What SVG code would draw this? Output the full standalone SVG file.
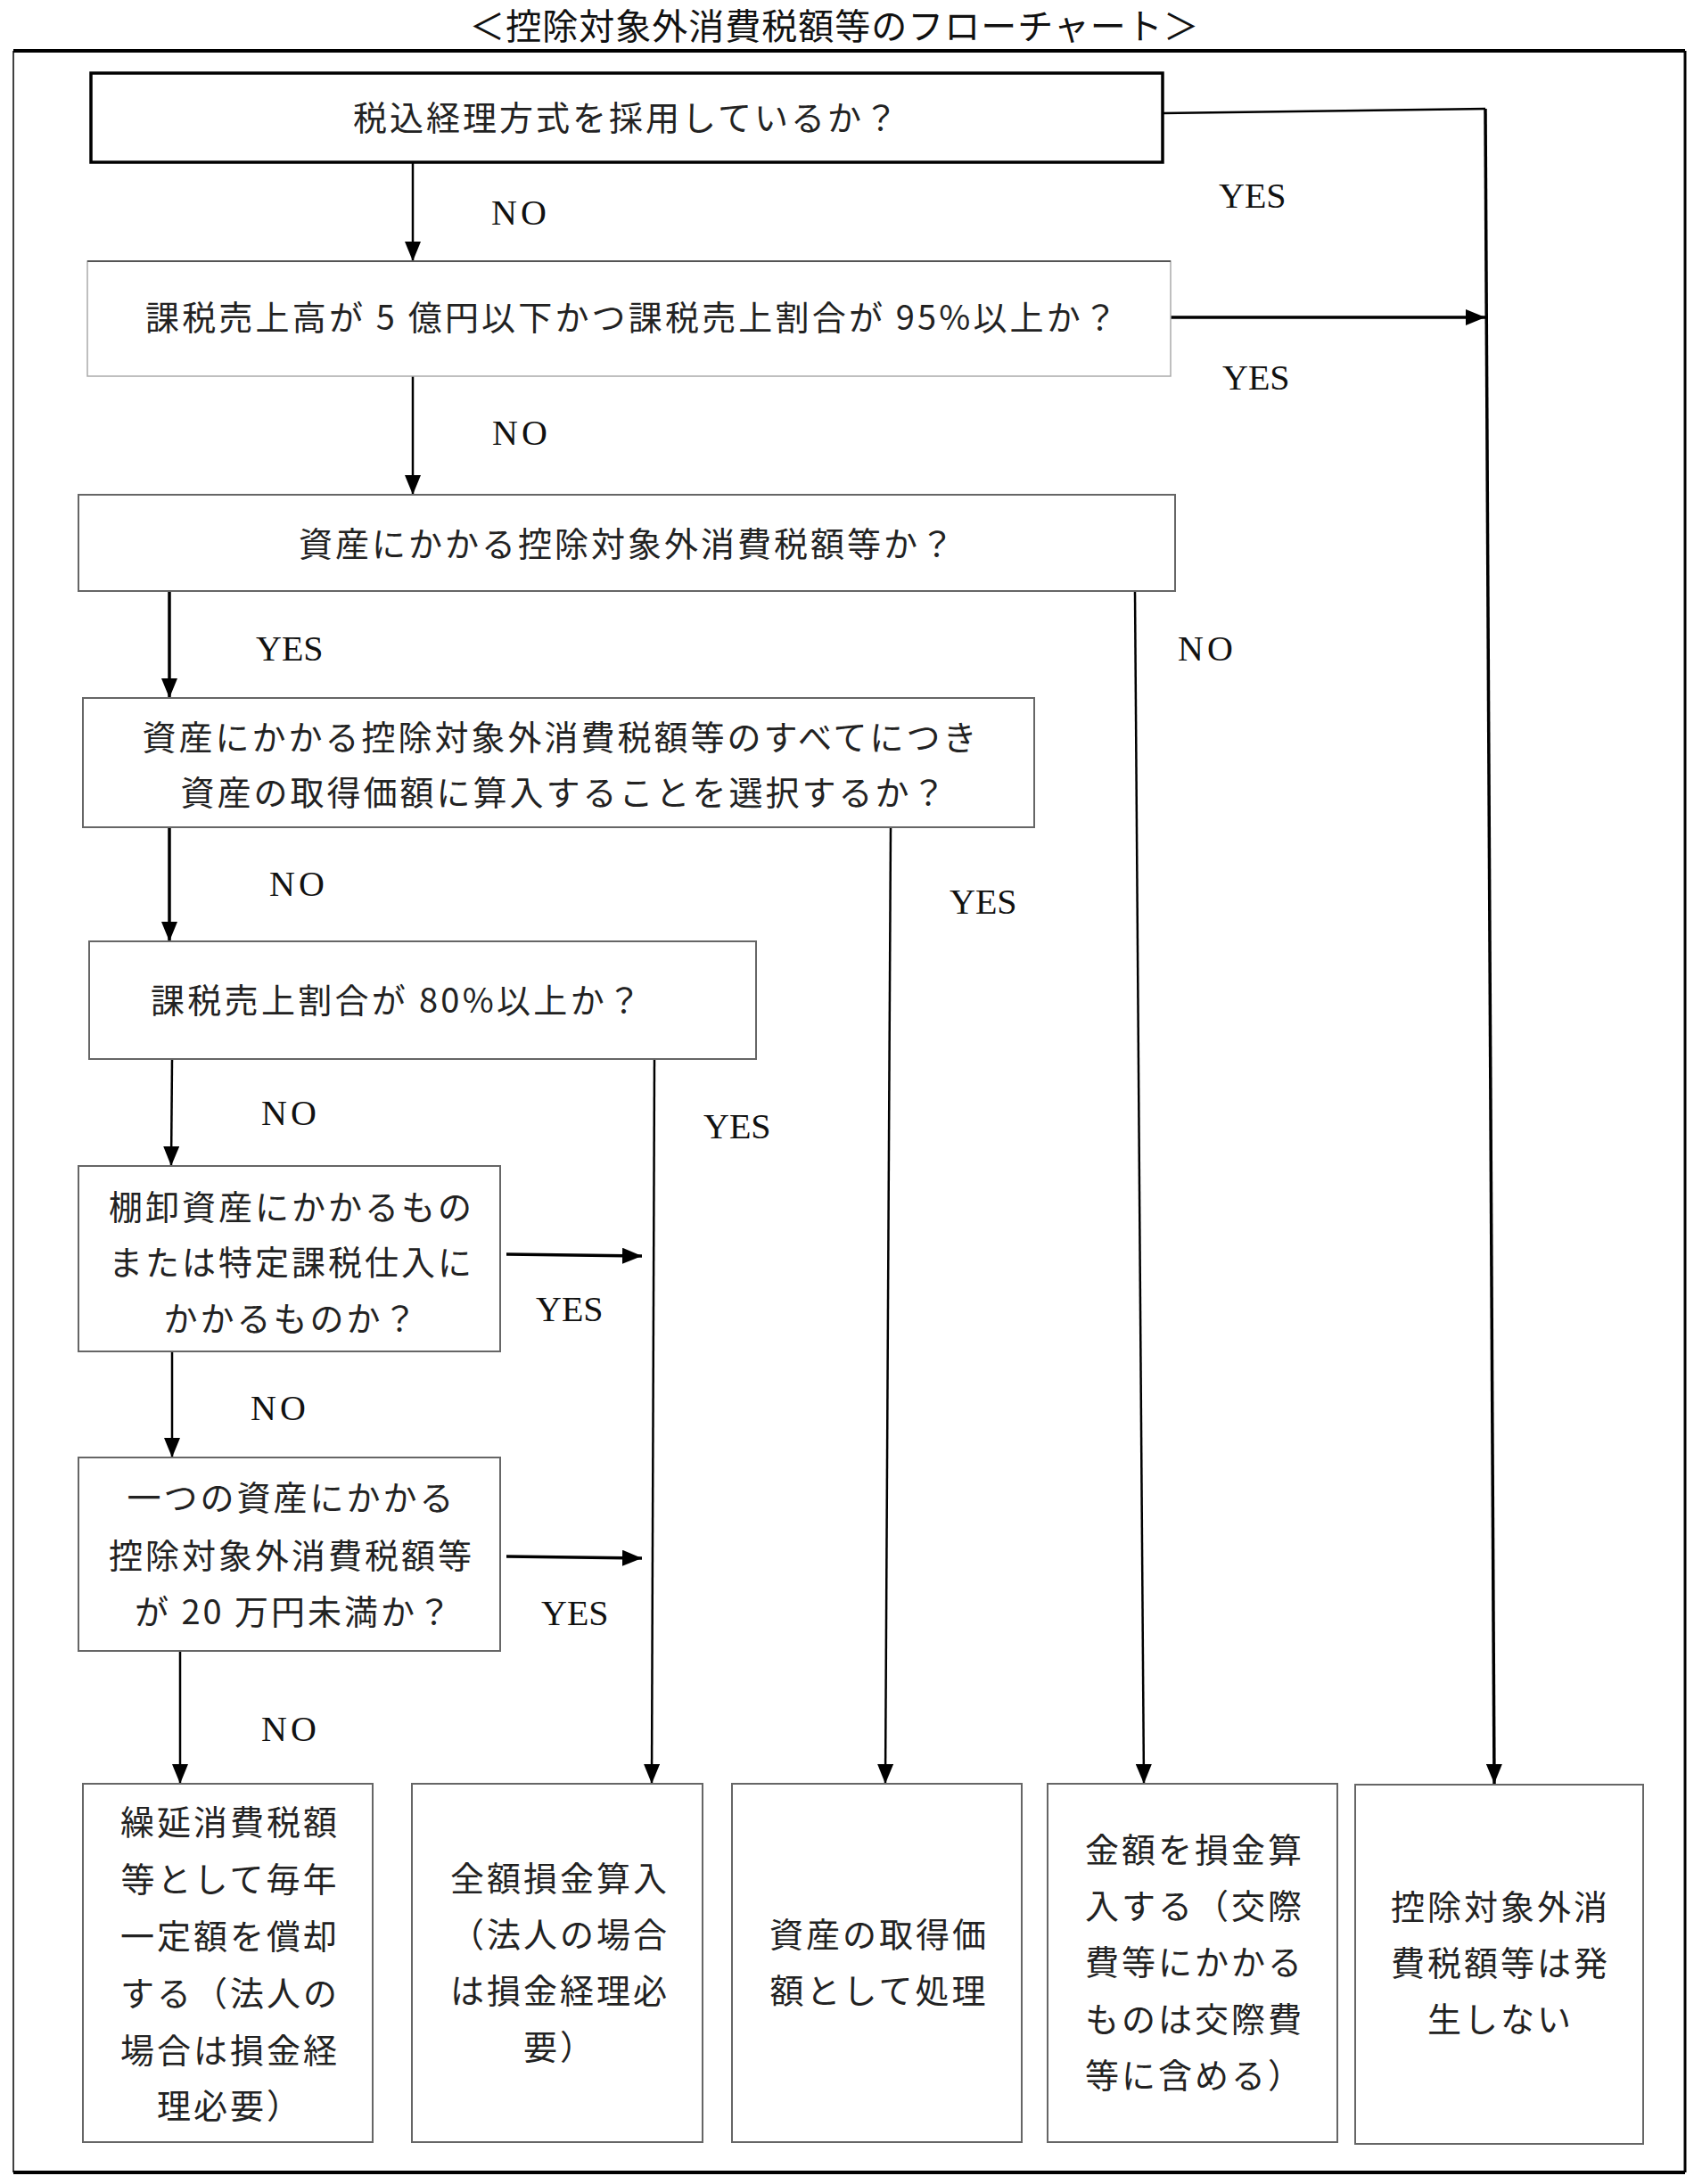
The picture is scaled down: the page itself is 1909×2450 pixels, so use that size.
<svg xmlns="http://www.w3.org/2000/svg" width="1909" height="2450" viewBox="0 0 1909 2450">
<style>
.jp{font-family:'Noto Sans CJK JP','Noto Sans CJK SC',sans-serif;font-size:38px;letter-spacing:3px;fill:#222;text-anchor:middle}
.js{font-family:'Noto Sans CJK JP','Noto Sans CJK SC',sans-serif;font-size:38px;fill:#222}
.tt{font-family:'Noto Sans CJK JP','Noto Sans CJK SC',sans-serif;font-size:40px;letter-spacing:1px;fill:#111;text-anchor:middle}
.lb{font-family:'Liberation Serif','Times New Roman',serif;font-size:40px;fill:#111}
.no{letter-spacing:4px}
.box{fill:#fff;stroke:#666;stroke-width:2}
.boxl{fill:#fff;stroke:#aaa;stroke-width:1.5}
.ln{fill:none;stroke:#000;stroke-width:2.5}
.lt{fill:none;stroke:#000;stroke-width:3.5}
</style>
<defs>
<marker id="ah" markerUnits="userSpaceOnUse" markerWidth="22" markerHeight="18" viewBox="0 0 22 18" refX="22" refY="9" orient="auto">
<path d="M0,0 L22,9 L0,18 Z" fill="#000"/>
</marker>
</defs>
<rect width="1909" height="2450" fill="#fff"/>
<text class="tt" x="936" y="44">＜控除対象外消費税額等のフローチャート＞</text>
<g id="frame">
<line x1="15" y1="57" x2="1890" y2="57" stroke="#000" stroke-width="4"/>
<line x1="15" y1="2437" x2="1890" y2="2437" stroke="#000" stroke-width="4"/>
<line x1="15" y1="57" x2="15" y2="2437" stroke="#000" stroke-width="1.5"/>
<line x1="1890" y1="57" x2="1890" y2="2437" stroke="#000" stroke-width="3"/>
</g>
<g id="connectors">
<line class="ln" x1="463" y1="182" x2="463" y2="293" marker-end="url(#ah)"/>
<polyline class="ln" points="1304,127 1666,122"/>
<line class="lt" x1="1666" y1="122" x2="1676" y2="2001" marker-end="url(#ah)"/>
<line class="lt" x1="1313" y1="356" x2="1666" y2="356" marker-end="url(#ah)"/>
<line class="ln" x1="463" y1="422" x2="463" y2="555" marker-end="url(#ah)"/>
<line class="lt" x1="190" y1="663" x2="190" y2="783" marker-end="url(#ah)"/>
<line class="ln" x1="1273" y1="663" x2="1283" y2="2001" marker-end="url(#ah)"/>
<line class="lt" x1="190" y1="928" x2="190" y2="1056" marker-end="url(#ah)"/>
<line class="ln" x1="999" y1="928" x2="993" y2="2001" marker-end="url(#ah)"/>
<line class="ln" x1="193" y1="1188" x2="192" y2="1308" marker-end="url(#ah)"/>
<line class="ln" x1="734" y1="1188" x2="731" y2="2001" marker-end="url(#ah)"/>
<line class="lt" x1="568" y1="1407" x2="720" y2="1409" marker-end="url(#ah)"/>
<line class="ln" x1="193" y1="1516" x2="193" y2="1635" marker-end="url(#ah)"/>
<line class="lt" x1="568" y1="1746" x2="720" y2="1748" marker-end="url(#ah)"/>
<line class="ln" x1="202" y1="1852" x2="202" y2="2001" marker-end="url(#ah)"/>
</g>
<g id="labels">
<text class="lb no" x="551" y="252">NO</text>
<text class="lb" x="1367" y="233">YES</text>
<text class="lb" x="1371" y="437">YES</text>
<text class="lb no" x="552" y="499">NO</text>
<text class="lb" x="287" y="741">YES</text>
<text class="lb no" x="1321" y="741">NO</text>
<text class="lb no" x="302" y="1005">NO</text>
<text class="lb" x="1065" y="1025">YES</text>
<text class="lb no" x="293" y="1262">NO</text>
<text class="lb" x="789" y="1277">YES</text>
<text class="lb" x="601" y="1482">YES</text>
<text class="lb no" x="281" y="1593">NO</text>
<text class="lb" x="607" y="1823">YES</text>
<text class="lb no" x="293" y="1953">NO</text>
</g>
<g id="n1">
<rect x="102" y="82" width="1202" height="100" fill="#fff" stroke="#000" stroke-width="3.5"/>
<text class="jp" x="703" y="146">税込経理方式を採用しているか？</text>
</g>
<g id="n2">
<rect class="boxl" x="98" y="293" width="1215" height="129"/>
<line x1="98" y1="293" x2="1313" y2="293" stroke="#555" stroke-width="2"/>
<text class="js" x="163" y="370" textLength="1090" lengthAdjust="spacing">課税売上高が 5 億円以下かつ課税売上割合が 95%以上か？</text>
</g>
<g id="n3">
<rect class="box" x="88" y="555" width="1230" height="108"/>
<text class="jp" x="704" y="624">資産にかかる控除対象外消費税額等か？</text>
</g>
<g id="n4">
<rect class="box" x="93" y="783" width="1067" height="145"/>
<text class="jp" x="629" y="841">資産にかかる控除対象外消費税額等のすべてにつき</text>
<text class="jp" x="633" y="903">資産の取得価額に算入することを選択するか？</text>
</g>
<g id="n5">
<rect class="box" x="100" y="1056" width="748" height="132"/>
<text class="js" x="169" y="1136" textLength="550" lengthAdjust="spacing">課税売上割合が 80%以上か？</text>
</g>
<g id="n6">
<rect class="box" x="88" y="1308" width="473" height="208"/>
<text class="jp" x="327" y="1368">棚卸資産にかかるもの</text>
<text class="jp" x="327" y="1430">または特定課税仕入に</text>
<text class="jp" x="327" y="1493">かかるものか？</text>
</g>
<g id="n7">
<rect class="box" x="88" y="1635" width="473" height="217"/>
<text class="jp" x="327" y="1694">一つの資産にかかる</text>
<text class="jp" x="327" y="1759">控除対象外消費税額等</text>
<text class="js" x="151" y="1822" textLength="355" lengthAdjust="spacing">が 20 万円未満か？</text>
</g>
<g id="r1">
<rect class="box" x="93" y="2001" width="325" height="402"/>
<text class="jp" x="258" y="2058">繰延消費税額</text>
<text class="jp" x="258" y="2122">等として毎年</text>
<text class="jp" x="258" y="2186">一定額を償却</text>
<text class="jp" x="258" y="2250">する（法人の</text>
<text class="jp" x="258" y="2314">場合は損金経</text>
<text class="jp" x="258" y="2376">理必要）</text>
</g>
<g id="r2">
<rect class="box" x="462" y="2001" width="326" height="402"/>
<text class="jp" x="628" y="2121">全額損金算入</text>
<text class="jp" x="628" y="2184">（法人の場合</text>
<text class="jp" x="628" y="2247">は損金経理必</text>
<text class="jp" x="628" y="2310">要）</text>
</g>
<g id="r3">
<rect class="box" x="821" y="2001" width="325" height="402"/>
<text class="jp" x="986" y="2184">資産の取得価</text>
<text class="jp" x="986" y="2247">額として処理</text>
</g>
<g id="r4">
<rect class="box" x="1175" y="2001" width="325" height="402"/>
<text class="jp" x="1340" y="2089">金額を損金算</text>
<text class="jp" x="1340" y="2152">入する（交際</text>
<text class="jp" x="1340" y="2215">費等にかかる</text>
<text class="jp" x="1340" y="2279">ものは交際費</text>
<text class="jp" x="1340" y="2342">等に含める）</text>
</g>
<g id="r5">
<rect class="box" x="1520" y="2002" width="323" height="403"/>
<text class="jp" x="1683" y="2153">控除対象外消</text>
<text class="jp" x="1683" y="2216">費税額等は発</text>
<text class="jp" x="1683" y="2279">生しない</text>
</g>
</svg>
